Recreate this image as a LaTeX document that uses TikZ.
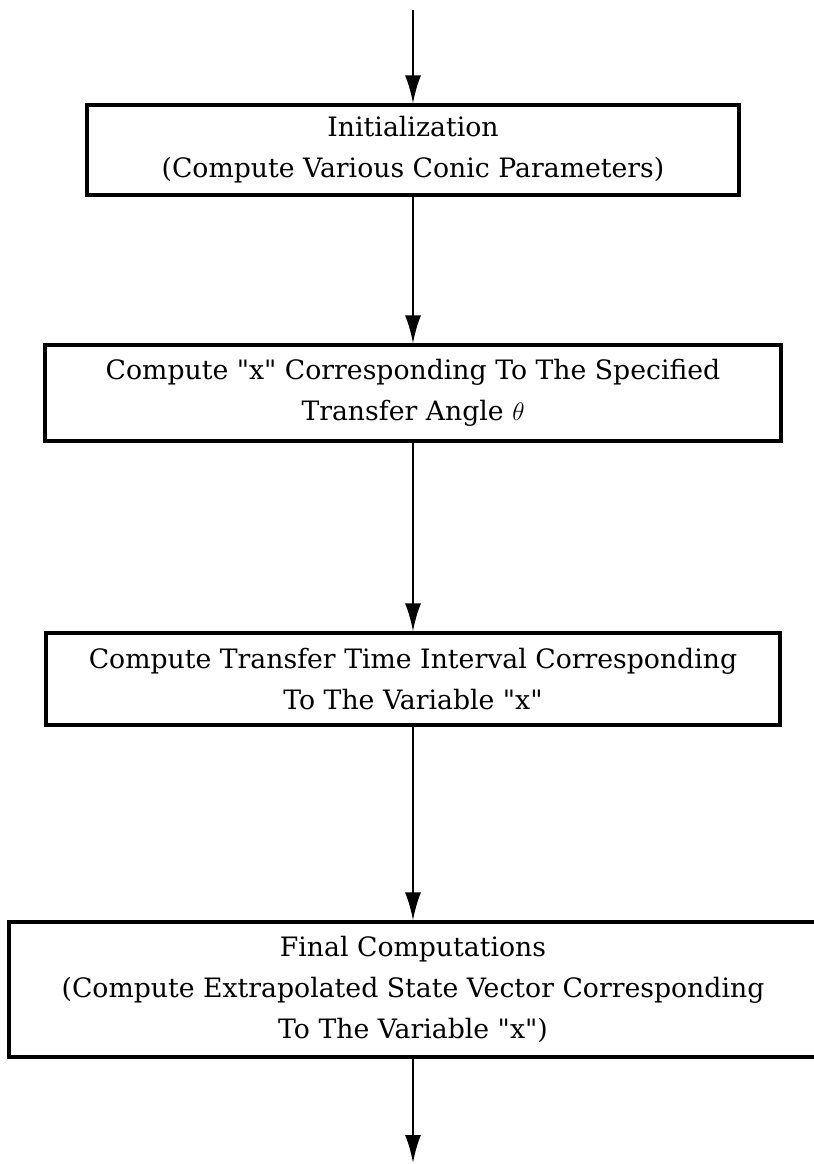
\documentclass[tikz,border=0pt]{standalone}
\usepackage{fontspec}
\setmainfont{DejaVu Serif}
\usetikzlibrary{arrows.meta}

\begin{document}
\begin{tikzpicture}[x=0.02cm, y=-0.02cm,
  boite/.style={draw, line width=1.8pt, align=center, inner sep=0pt,
    font=\fontsize{15.2}{23.3}\selectfont},
  fleche/.style={line width=1.3pt, -{Latex[length=5.6mm, width=3.2mm]}}]
  \useasboundingbox (0,0) rectangle (814,1164);

  % Les boites
  \node[boite, minimum width=13.04cm, minimum height=1.8cm] (init) at (413,150)
    {Initialization\\(Compute Various Conic Parameters)};
  \node[boite, minimum width=14.72cm, minimum height=1.92cm] (angle) at (413,393)
    {Compute \textquotedbl x\textquotedbl{} Corresponding To The Specified\\Transfer Angle $\theta$};
  \node[boite, minimum width=14.68cm, minimum height=1.84cm] (temps) at (413,679)
    {Compute Transfer Time Interval Corresponding\\To The Variable \textquotedbl x\textquotedbl};
  \node[boite, minimum width=16.16cm, minimum height=2.7cm] (final) at (413,989.5)
    {Final Computations\\(Compute Extrapolated State Vector Corresponding\\To The Variable \textquotedbl x\textquotedbl)};

  % Les fleches
  \coordinate (debut) at (413,10);
  \coordinate (fin) at (413,1163);
  \draw[fleche] (debut) -- (init);
  \draw[fleche] (init) -- (angle);
  \draw[fleche] (angle) -- (temps);
  \draw[fleche] (temps) -- (final);
  \draw[fleche] (final) -- (fin);

\end{tikzpicture}
\end{document}
